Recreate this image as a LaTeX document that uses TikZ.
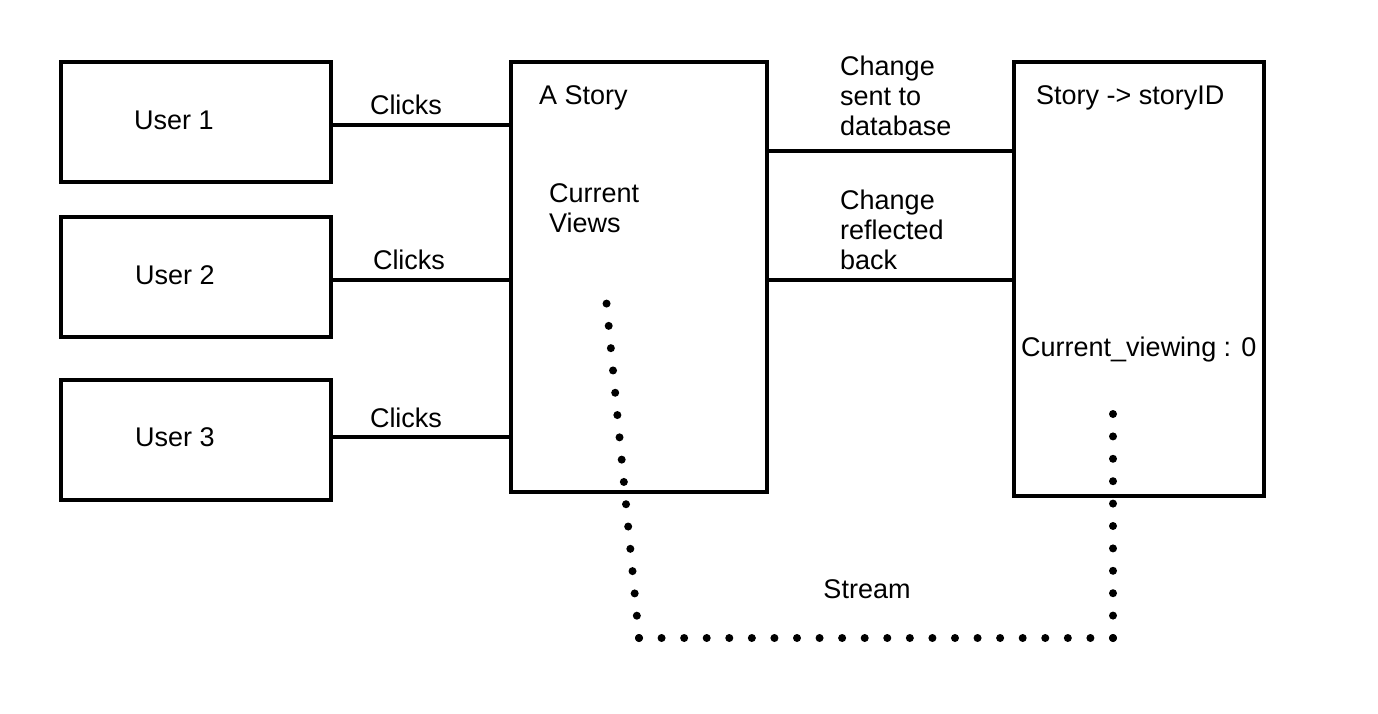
\documentclass[tikz,border=0pt]{standalone}
\usepackage{fontspec}
\setmainfont{Liberation Sans}
\begin{document}
\begin{tikzpicture}[x=1pt,y=-1pt,
  box/.style={draw,line width=4pt,inner sep=0pt},
  lbl/.style={inner sep=0pt,font=\fontsize{27}{30}\selectfont,align=left},
  link/.style={line width=3.5pt},
  dotline/.style={line width=8pt,line cap=round,dash pattern=on 0pt off 22.4pt}]
\useasboundingbox (0,0) rectangle (1378,714);
\fill[white] (0,0) rectangle (1378,714);
% boxes
\node[box,minimum width=270pt,minimum height=120pt] (u1) at (196,122) {};
\node[box,minimum width=270pt,minimum height=120pt] (u2) at (196,277) {};
\node[box,minimum width=270pt,minimum height=120pt] (u3) at (196,440) {};
\node[box,minimum width=256pt,minimum height=430pt] (st) at (639,277) {};
\node[box,minimum width=250pt,minimum height=433pt] (db) at (1139,279) {};
% texts
\node[lbl] (t1) at (174,120) {User 1};
\node[lbl] (t2) at (175,275) {User 2};
\node[lbl] (t3) at (175,437) {User 3};
\node[lbl] (c1) at (406,105) {Clicks};
\node[lbl] (c2) at (409,260) {Clicks};
\node[lbl] (c3) at (406,418) {Clicks};
\node[lbl,anchor=west] (as) at (539,98) {A Story};
\node[lbl,anchor=west] (cv) at (549,208) {Current\\Views};
\node[lbl,anchor=west] (cs) at (840,96) {Change\\sent to\\database};
\node[lbl,anchor=west] (cr) at (840,230) {Change\\reflected\\back};
\node[lbl,anchor=west] (sid) at (1036,98) {Story -> storyID};
\node[lbl,anchor=west] (cvw) at (1021,350) {Current\_viewing : 0};
\node[lbl] (sm) at (867,589) {Stream};
% connectors
\draw[link] (u1.east |- 0,125) -- (st.west |- 0,125);
\draw[link] (u2.east |- 0,280) -- (st.west |- 0,280);
\draw[link] (u3.east |- 0,437) -- (st.west |- 0,437);
\draw[link] (st.east |- 0,151) -- (db.west |- 0,151);
\draw[link] (st.east |- 0,280) -- (db.west |- 0,280);
% stream
\coordinate (s0) at (606,298);
\coordinate (s1) at (639,638);
\coordinate (s2) at (1113,638);
\coordinate (s3) at (1113,414);
\draw[dotline] (s1) -- (s0);
\draw[dotline,dash pattern=on 0pt off 22.57pt] (s1) -- (s2);
\draw[dotline] (s2) -- (s3);
\end{tikzpicture}
\end{document}
